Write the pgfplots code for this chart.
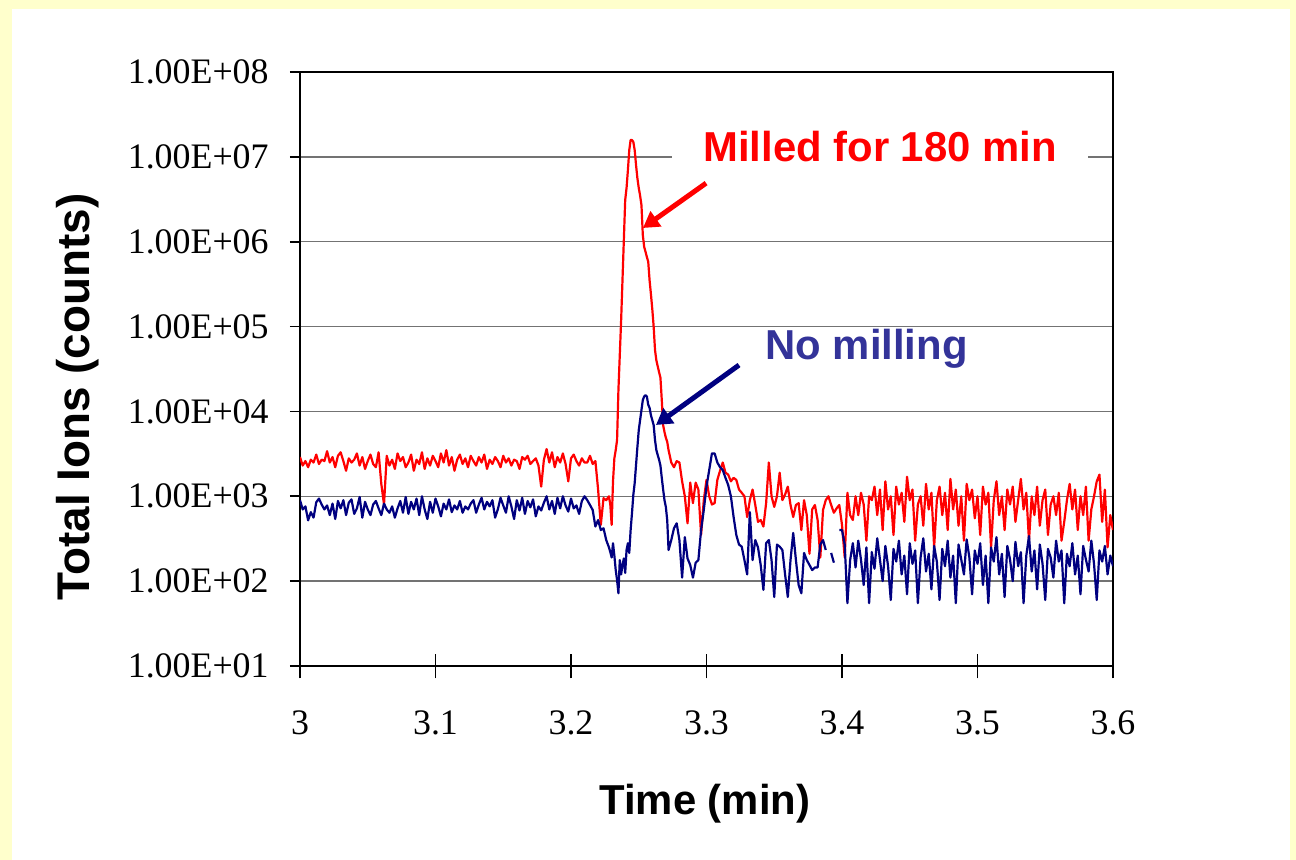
\documentclass[border=0pt]{standalone}
\usepackage{fontspec}
\setmainfont{Liberation Serif}
\newfontfamily\arial{Liberation Sans}
\usepackage{pgfplots}
\pgfplotsset{compat=1.18}
\usepackage{pgfplotstable}
\usetikzlibrary{arrows.meta}
\definecolor{bgyellow}{HTML}{FFFFCC}
\definecolor{navyline}{HTML}{000080}
\definecolor{labelblue}{HTML}{333399}

% time (min), total ions: milled 180 min, no milling
\pgfplotstableread{
t red blue
3.000 2900 900
3.002 2300 700
3.004 2600 760
3.006 2200 520
3.008 2700 650
3.010 2500 560
3.012 3100 850
3.014 2400 940
3.016 2700 800
3.018 2600 700
3.020 3400 780
3.022 2500 600
3.024 2900 820
3.026 2200 540
3.028 3000 880
3.030 3300 720
3.032 2600 900
3.034 2000 600
3.036 2800 840
3.038 2500 920
3.040 2700 620
3.042 3200 720
3.044 2300 980
3.046 2900 560
3.048 2100 860
3.050 2600 700
3.052 3100 600
3.054 2400 800
3.056 2200 880
3.058 3300 720
3.060 1400 600
3.062 800 820
3.064 3000 700
3.066 2300 640
3.068 2700 760
3.070 2100 560
3.072 3200 720
3.074 2600 880
3.076 2900 640
3.078 2200 980
3.080 2500 620
3.082 3100 860
3.084 2000 700
3.086 2700 940
3.088 2400 600
3.090 3300 1000
3.092 2100 700
3.094 2800 540
3.096 2300 860
3.098 3000 640
3.100 2600 940
3.102 2200 760
3.104 3200 580
3.106 2500 820
3.108 3500 700
3.110 2300 920
3.112 2900 650
3.114 2000 780
3.116 2700 700
3.118 3100 880
3.120 2400 640
3.122 2800 760
3.124 2200 700
3.126 3000 820
3.128 2600 900
3.130 2300 640
3.132 2900 800
3.134 2500 960
3.136 3100 700
3.138 2100 860
3.140 2700 760
3.142 2400 900
3.144 2900 560
3.146 2600 700
3.148 2200 960
3.150 3000 780
3.152 2500 640
3.154 2800 1000
3.156 2300 760
3.158 2700 540
3.160 2600 900
3.162 2100 680
3.164 2900 960
3.166 2700 620
3.168 3000 880
3.170 2400 740
3.172 2600 920
3.174 2800 580
3.176 2300 760
3.178 1300 680
3.180 2700 840
3.182 3600 1000
3.184 2500 700
3.186 3300 880
3.188 2200 620
3.190 2900 960
3.192 2500 720
3.194 3200 1000
3.196 2400 780
3.198 1500 660
3.200 2800 940
3.202 3100 720
3.204 2600 780
3.206 2300 620
3.208 2800 880
3.210 2500 1000
3.212 2500 900
3.214 3000 790
3.216 2400 690
3.218 2600 440
3.220 1200 525
3.222 460 400
3.224 950 420
3.226 900 305
3.228 1000 250
3.229 800 220
3.230 460 190
3.231 1500 280
3.232 2800 200
3.233 3500 135
3.234 4600 103
3.235 17900 72
3.236 46000 177
3.237 119000 120
3.238 354000 155
3.239 1050000 185
3.240 3100000 125
3.241 4300000 233
3.242 7000000 280
3.243 12000000 215
3.244 15800000 400
3.245 15800000 630
3.246 15000000 1040
3.247 12000000 1430
3.248 8000000 2340
3.249 5600000 3800
3.250 4300000 6000
3.251 3500000 7900
3.252 2700000 10400
3.253 1200000 13600
3.254 870000 15000
3.255 760000 15500
3.256 660000 15000
3.257 580000 12000
3.258 350000 11000
3.259 240000 9000
3.260 160000 7900
3.261 100000 6900
3.262 53000 4600
3.263 40000 3500
3.264 34000 3060
3.265 29000 2700
3.266 25000 2300
3.267 13600 1650
3.268 6900 1200
3.269 5700 900
3.270 4900 750
3.271 4400 525
3.272 3500 233
3.274 2500 305
3.276 2200 420
3.278 2600 480
3.280 2500 305
3.282 1500 110
3.284 1000 330
3.286 480 185
3.288 1450 155
3.290 830 110
3.292 1450 165
3.294 1200 177
3.296 350 400
3.298 900 690
3.300 1560 1300
3.302 1000 2040
3.304 800 3200
3.306 830 3200
3.308 1560 2500
3.310 2000 2200
3.312 2500 2040
3.314 1900 1650
3.316 1800 1360
3.318 1500 1000
3.320 1650 570
3.322 1560 350
3.324 1200 270
3.326 1100 255
3.328 1000 177
3.330 570 120
3.332 900 650
3.334 1200 177
3.336 790 305
3.338 500 250
3.340 525 155
3.342 440 79
3.344 830 280
3.346 2500 305
3.348 1000 177
3.350 750 65
3.352 1000 270
3.354 1900 255
3.356 900 233
3.358 1050 120
3.360 1300 65
3.362 790 177
3.364 570 370
3.366 790 177
3.368 830 90
3.370 400 72
3.372 900 215
3.374 600 177
3.376 210 155
3.378 700 135
3.380 790 145
3.382 525 145
3.384 190 270
3.386 690 305
3.388 900 233
3.390 1000 nan
3.392 790 215
3.394 640 165
3.396 720 nan
3.398 790 400
3.400 460 400
3.402 190 270
3.404 1100 55
3.406 600 177
3.408 525 280
3.410 1000 145
3.412 600 300
3.414 1100 180
3.416 800 90
3.418 300 250
3.420 1000 55
3.422 900 220
3.424 1300 140
3.426 600 320
3.428 1200 180
3.430 400 100
3.432 1500 260
3.434 700 150
3.436 1000 60
3.438 350 240
3.440 1300 170
3.442 800 300
3.444 1100 120
3.446 500 200
3.448 1700 70
3.450 900 280
3.452 1200 160
3.454 300 230
3.456 800 55
3.458 1000 190
3.460 450 320
3.462 1400 130
3.464 700 210
3.466 1100 80
3.468 250 260
3.470 900 170
3.472 1300 60
3.474 600 240
3.476 1100 150
3.478 400 300
3.480 1600 110
3.482 700 200
3.484 1200 55
3.486 450 270
3.488 1000 180
3.490 300 120
3.492 1400 310
3.494 900 190
3.496 1200 70
3.498 550 230
3.500 1000 160
3.502 350 280
3.504 1300 90
3.506 800 200
3.508 1100 55
3.510 250 250
3.512 900 170
3.514 1500 330
3.516 600 120
3.518 1000 210
3.520 400 65
3.522 1200 260
3.524 800 180
3.526 1300 100
3.528 500 290
3.530 900 150
3.532 1600 220
3.534 700 55
3.536 1100 200
3.538 300 340
3.540 1000 130
3.542 600 230
3.544 1300 80
3.546 450 270
3.548 900 160
3.550 1200 60
3.552 350 240
3.554 800 190
3.556 1000 110
3.558 600 300
3.560 1100 170
3.562 300 230
3.564 500 55
3.566 900 210
3.568 1400 150
3.570 700 280
3.572 1200 120
3.574 400 200
3.576 1000 70
3.578 600 260
3.580 1300 180
3.582 300 130
3.584 700 300
3.586 1000 160
3.588 1500 60
3.590 1800 230
3.592 500 170
3.594 1200 260
3.596 250 120
3.598 600 200
3.600 400 150
}\ions

\begin{document}
\begin{tikzpicture}
\fill[bgyellow] (0,0) rectangle (648bp,430bp);
\fill[white] (6bp,0) rectangle (645bp,425.5bp);
\begin{axis}[
    at={(150bp,97bp)}, anchor=south west,
    scale only axis, width=406.5bp, height=297bp,
    xmin=3, xmax=3.6,
    ymode=log, ymin=10, ymax=1e8,
    xtick={3,3.1,3.2,3.3,3.4,3.5,3.6},
    xticklabels={3,3.1,3.2,3.3,3.4,3.5,3.6},
    ytick={1e1,1e2,1e3,1e4,1e5,1e6,1e7,1e8},
    yticklabels={1.00E+01,1.00E+02,1.00E+03,1.00E+04,1.00E+05,1.00E+06,1.00E+07,1.00E+08},
    yminorticks=false,
    ymajorgrids,
    major grid style={line width=0.7bp, color=black!55},
    axis line style={line width=1.1bp},
    tick style={line width=0.8bp, black},
    xtick pos=bottom, ytick pos=left,
    xtick align=center, ytick align=outside,
    major tick length=12.5bp,
    ytick style={/pgfplots/major tick length=5bp},
    ticklabel style={font=\fontsize{18}{20}\selectfont},
    xticklabel style={inner sep=0pt, anchor=north, yshift=-16bp},
    yticklabel style={inner sep=0pt, anchor=east, xshift=-3bp},
    xlabel={Time (min)},
    ylabel={Total Ions (counts)},
    xlabel style={font=\arial\bfseries\fontsize{21}{24}\selectfont,
      at={(axis description cs:0.498,-0.231)}, anchor=center},
    ylabel style={font=\arial\bfseries\fontsize{23}{26}\selectfont,
      at={(axis description cs:-0.273,0.453)}, anchor=center},
    unbounded coords=jump,
  ]
  \addplot[red, line width=1.1bp, line join=round] table[x=t, y=red] {\ions};
  \addplot[navyline, line width=1.1bp, line join=round] table[x=t, y=blue] {\ions};

  \node[anchor=base west, fill=white, inner xsep=15.5bp, inner ysep=2bp,
    text=red, font=\arial\bfseries\fontsize{21}{24}\selectfont]
    at (axis cs:3.2745,8.7e6) {Milled for 180 min};
  \node[anchor=base west, inner sep=0pt,
    text=labelblue, font=\arial\bfseries\fontsize{21}{24}\selectfont]
    at (axis cs:3.3432,40400) {No milling};

  \draw[red, line width=2.5bp, -{Triangle[length=8bp,width=9bp]}]
    (axis cs:3.2997,4.9e6) -- (axis cs:3.2531,1.45e6);
  \draw[navyline, line width=2.5bp, -{Triangle[length=8bp,width=9bp]}]
    (axis cs:3.3240,35200) -- (axis cs:3.2627,6920);
\end{axis}
\pgfresetboundingbox
\path[use as bounding box] (0,0) rectangle (648bp,430bp);
\end{tikzpicture}
\end{document}
